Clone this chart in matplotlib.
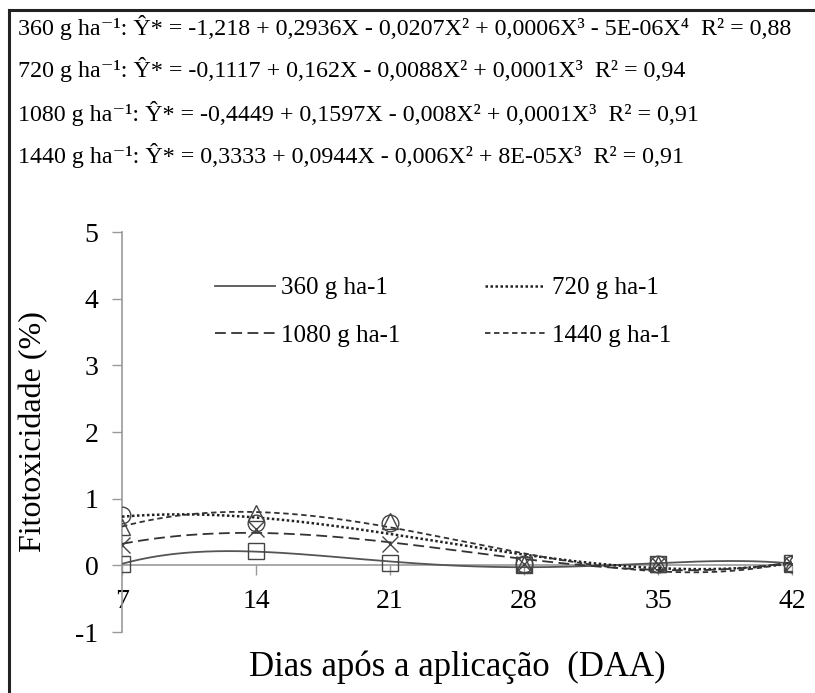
import numpy as np
import matplotlib
matplotlib.use("Agg")
import matplotlib.pyplot as plt
from matplotlib.lines import Line2D

plt.rcParams['font.family'] = ['Liberation Serif', 'DejaVu Serif']

days = [7, 14, 21, 28, 35, 42]
y360 = [0.02, 0.22, 0.03, 0.00, 0.02, 0.03]
y720 = [0.75, 0.63, 0.63, 0.02, 0.02, 0.02]
y1080 = [0.30, 0.55, 0.32, 0.02, 0.02, 0.02]
y1440 = [0.58, 0.78, 0.67, 0.02, 0.02, 0.02]

series_labels = ["360 g ha-1", "720 g ha-1", "1080 g ha-1", "1440 g ha-1"]
fit_degrees = [4, 3, 3, 3]
equations = [
    "360 g ha\u207b\u00b9: \u0176* = -1,218 + 0,2936X - 0,0207X\u00b2 + 0,0006X\u00b3 - 5E-06X\u2074  R\u00b2 = 0,88",
    "720 g ha\u207b\u00b9: \u0176* = -0,1117 + 0,162X - 0,0088X\u00b2 + 0,0001X\u00b3  R\u00b2 = 0,94",
    "1080 g ha\u207b\u00b9: \u0176* = -0,4449 + 0,1597X - 0,008X\u00b2 + 0,0001X\u00b3  R\u00b2 = 0,91",
    "1440 g ha\u207b\u00b9: \u0176* = 0,3333 + 0,0944X - 0,006X\u00b2 + 8E-05X\u00b3  R\u00b2 = 0,91",
]
yticks = [-1, 0, 1, 2, 3, 4, 5]

fig = plt.figure(figsize=(8.15, 6.93), dpi=100)
ax = fig.add_axes([0.1497, 0.0880, 0.8221, 0.5772])

styles = [
    dict(color="#555555", ls="-", lw=1.3),
    dict(color="#222222", ls=(0, (1, 1)), lw=1.8),
    dict(color="#333333", ls=(0, (6, 3)), lw=1.3),
    dict(color="#333333", ls=(0, (3, 2)), lw=1.3),
]
markers = [
    dict(marker="s", ms=11, mfc="none", mec="#444444", mew=1.0),
    dict(marker="o", ms=12, mfc="none", mec="#444444", mew=1.0),
    dict(marker="x", ms=12, mec="#444444", mew=1.0),
    dict(marker="^", ms=11, mfc="none", mec="#444444", mew=1.0),
]

xs = np.linspace(min(days), max(days), 300)
handles = []
for ys, deg, st, mk, lab in zip([y360, y720, y1080, y1440], fit_degrees, styles, markers, series_labels):
    coef = np.polyfit(days, ys, deg)
    ax.plot(xs, np.polyval(coef, xs), **st, zorder=3)
    ax.plot(days, ys, ls="none", **mk, zorder=4)
    handles.append(Line2D([], [], **st, label=lab))

for s in ["top", "right"]:
    ax.spines[s].set_visible(False)
ax.spines["bottom"].set_position(("data", 0))
ax.spines["left"].set_color("#999999")
ax.spines["bottom"].set_color("#999999")
ax.spines["left"].set_linewidth(1.2)
ax.spines["bottom"].set_linewidth(1.2)

ax.set_xlim(7, 42)
ax.set_ylim(-1, 5)
ax.set_xticks(days)
ax.set_yticks(yticks)
ax.set_xticklabels([str(d) for d in days])
ax.set_yticklabels([str(t) for t in yticks])
ax.tick_params(axis="both", color="#999999", direction="out", length=7, width=1.0,
               labelcolor="black", labelsize=20)
ax.tick_params(axis="x", pad=10)
ax.tick_params(axis="y", pad=10)

ax.set_xlabel("Dias após a aplicação  (DAA)", fontsize=25)
ax.xaxis.set_label_coords(0.5, -0.045)
ax.set_ylabel("Fitotoxicidade (%)", fontsize=23)
ax.yaxis.set_label_coords(-0.11, 0.5)

order = [handles[0], handles[2], handles[1], handles[3]]
leg = fig.legend(handles=order, loc="upper left", bbox_to_anchor=(0.236, 0.633),
                 ncol=2, frameon=False, fontsize=18, handlelength=2.4,
                 labelspacing=1.0, columnspacing=3.4, handletextpad=0.25)

y_eq = [28, 70, 113, 155]
for t, yp in zip(equations, y_eq):
    fig.text(18 / 815, 1 - yp / 693, t, fontsize=17.3, va="center", ha="left")

# outer frame (top and left edges)
fig.add_artist(Line2D([9 / 815, 9 / 815], [0, 1 - 10 / 693], transform=fig.transFigure, color="#222222", lw=2.2))
fig.add_artist(Line2D([9 / 815, 1], [1 - 10 / 693, 1 - 10 / 693], transform=fig.transFigure, color="#222222", lw=2.2))

fig.savefig("out.png", dpi=100)
